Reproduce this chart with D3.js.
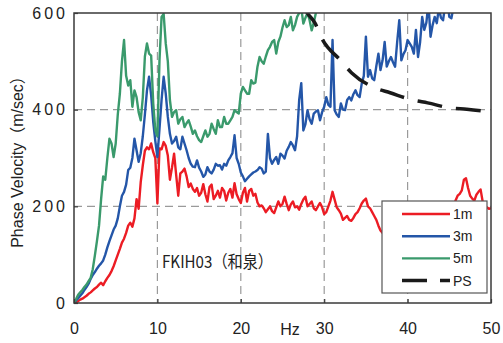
<!DOCTYPE html>
<html>
<head>
<meta charset="utf-8">
<script src="https://cdn.jsdelivr.net/npm/d3@7"></script>
<style>
  body { margin: 0; background: #fff; }
  svg { display: block; }
</style>
</head>
<body>
<svg id="chart" width="503" height="343"></svg>
<script>
// samples are every 0.25 Hz, one row = 1 Hz
const STEP = 0.25;

const xTicks = [0, 10, 20, 30, 40, 50];
const yTicks = [0, 200, 400, 600];
const gridX = [10, 20, 30, 40];
const gridY = [200, 400];

const red1m = [
  0, 2, 4, 7,   9, 12, 15, 19,   22, 26, 30, 33,   38, 42, 37, 45,
  52, 58, 66, 76,   88, 100, 112, 125,   133, 145, 160, 166,   158, 175, 215, 195,
  250, 285, 315, 322,   318, 330, 312, 300,   206, 320, 318, 333,   325, 305, 255, 280,
  309, 265, 222, 268,   272, 278, 262, 240,   247, 236, 230, 238,   222, 228, 246, 225,
  210, 240, 245, 215,   222, 232, 218, 238,   232, 212, 228, 236,   218, 248, 225, 215,
  207, 228, 238, 210,   232, 236, 222, 226,   208, 200, 202, 196,   188, 194, 200, 190,
  186, 198, 210, 200,   205, 220, 205, 192,   204, 210, 198, 200,   193, 205, 214, 220,
  200, 205, 210, 196,   192, 200, 207, 198,   184, 188, 200, 212,   230, 214, 198, 192,
  185, 172, 176, 180,   172, 170, 176, 184,   188, 196, 206, 212,   216, 200, 196, 188,
  180, 172, 160, 150,   145, 150, 160, 170,   165, 175, 180, 172,   178, 185, 180, 188,
  182, 190, 185, 178,   186, 192, 184, 190,   196, 188, 194, 185,   180, 188, 194, 190,
  196, 200, 192, 198,   202, 196, 205, 212,   222, 226, 233, 255,   258, 238, 222, 216,
  212, 224, 230, 235,   210, 200, 198, 195,   196
];

const blue3m = [
  0, 5, 10, 15,   20, 27, 33, 40,   50, 58, 64, 71,   77, 82, 88, 100,
  115, 128, 140, 152,   160, 175, 200, 222,   230, 245, 275, 280,   300, 340, 316, 292,
  310, 345, 390, 440,   468, 430, 375, 335,   302, 360, 420, 468,   433, 385, 350, 330,
  335, 344, 322, 318,   344, 330, 316, 300,   288, 282, 281, 295,   280, 272, 261, 266,
  281, 272, 268, 276,   288, 284, 285, 276,   288, 284, 295, 302,   310, 347, 300, 288,
  270, 262, 252, 257,   262, 266, 270, 272,   275, 281, 278, 268,   272, 350, 300, 288,
  296, 302, 288, 309,   305, 299, 315, 323,   333, 326, 316, 345,   420, 455, 357, 370,
  399, 380, 371, 392,   396, 399, 378, 395,   406, 426, 410, 406,   544, 399, 390, 385,
  413, 400, 399, 420,   426, 419, 432, 440,   430, 426, 454, 470,   551, 468, 482, 465,
  461, 490, 516, 482,   502, 540, 489, 500,   509, 498, 489, 540,   585, 502, 515, 523,
  544, 537, 530, 516,   565, 509, 540, 592,   565, 580, 620, 551,   575, 592, 579, 610,
  590, 585, 615, 630,   592, 589, 612, 630,   640, 625, 650, 620,   640, 630, 660, 625,
  615, 605, 630, 650,   640, 660, 630, 650,   645
];

// 5m leaves the top of the plot just before 30 Hz
const green5m = [
  0, 8, 17, 22,   27, 33, 38, 45,   52, 70, 98, 128,   160, 215, 262, 255,
  300, 340, 330, 302,   330, 390, 433, 500,   544, 470, 450, 461,   406, 440, 426, 395,
  378, 425, 510, 537,   516, 512, 413, 357,   345, 502, 592, 598,   537, 500, 420, 385,
  395, 399, 371, 380,   385, 364, 372, 378,   365, 350, 357, 345,   337, 333, 345, 357,
  344, 350, 371, 360,   350, 378, 364, 364,   385, 371, 371, 378,   385, 399, 395, 392,
  433, 447, 440, 433,   433, 461, 454, 456,   489, 509, 500, 495,   510, 523, 530, 540,
  544, 516, 540, 551,   570, 585, 571, 575,   592, 564, 575, 592,   600, 610, 578, 590,
  600, 585, 564, 580,   600, 620, 640, 660,   680
];

const psHz = [27.5, 27.9, 28.9, 29.7, 31.9, 33.3, 36.1, 37.9, 40.6, 42.4, 45.3, 47.1, 49.9];
const psV = [615, 602, 579, 548, 503, 476, 445, 435, 420, 414, 403, 401, 395];

const seriesNames = ["1m", "3m", "5m", "PS"];
const seriesColors = ["#ec1c24", "#2456a8", "#3a9a6c", "#1a1a1a"];

const svg = d3.select("#chart");
const margin = { top: 13, right: 12, bottom: 40, left: 74 };
const width = 503 - margin.left - margin.right;
const height = 343 - margin.top - margin.bottom;

const x = d3.scaleLinear().domain([0, 50]).range([0, width]);
const y = d3.scaleLinear().domain([0, 600]).range([height, 0]);

const g = svg.append("g")
  .attr("transform", `translate(${margin.left},${margin.top})`);

g.append("clipPath")
  .attr("id", "plot-clip")
  .append("rect")
  .attr("width", width)
  .attr("height", height);

// grid
g.selectAll(".gx")
  .data(gridX)
  .enter()
  .append("line")
  .attr("x1", d => x(d)).attr("x2", d => x(d))
  .attr("y1", 0).attr("y2", height)
  .attr("stroke", "#9a9a9a")
  .attr("stroke-width", 1.2)
  .attr("stroke-dasharray", "8,5");

g.selectAll(".gy")
  .data(gridY)
  .enter()
  .append("line")
  .attr("x1", 0).attr("x2", width)
  .attr("y1", d => y(d)).attr("y2", d => y(d))
  .attr("stroke", "#9a9a9a")
  .attr("stroke-width", 1.2)
  .attr("stroke-dasharray", "8,5");

// curves
const line = d3.line()
  .x((d, i) => x(i * STEP))
  .y(d => y(d));

const curves = g.append("g").attr("clip-path", "url(#plot-clip)");

[red1m, blue3m, green5m].forEach((values, k) => {
  curves.append("path")
    .datum(values)
    .attr("fill", "none")
    .attr("stroke", seriesColors[k])
    .attr("stroke-width", 2.4)
    .attr("stroke-linejoin", "round")
    .attr("d", line);
});

const psLine = d3.line()
  .x(d => x(d[0]))
  .y(d => y(d[1]))
  .curve(d3.curveMonotoneX);

curves.append("path")
  .datum(psHz.map((h, i) => [h, psV[i]]))
  .attr("fill", "none")
  .attr("stroke", seriesColors[3])
  .attr("stroke-width", 3.5)
  .attr("stroke-dasharray", "25,14")
  .attr("stroke-dashoffset", 0)
  .attr("d", psLine);

// frame and axes
g.append("rect")
  .attr("width", width)
  .attr("height", height)
  .attr("fill", "none")
  .attr("stroke", "#3a3a3a")
  .attr("stroke-width", 1.5);

const font = "'Liberation Sans', Arial, 'Noto Sans CJK JP', sans-serif";

const xAxis = g.append("g")
  .attr("transform", `translate(0,${height})`)
  .call(d3.axisBottom(x).tickValues(xTicks).tickSizeInner(-4).tickSizeOuter(0).tickPadding(20));

const yAxis = g.append("g")
  .call(d3.axisLeft(y).tickValues(yTicks).tickSizeInner(-4).tickSizeOuter(0).tickPadding(6));

[xAxis, yAxis].forEach(a => {
  a.select(".domain").remove();
  a.selectAll(".tick line").attr("stroke", "#3a3a3a").attr("stroke-width", 1.2);
  a.selectAll(".tick text")
    .attr("fill", "#222")
    .style("font-family", font)
    .style("font-size", "16px");
});
yAxis.selectAll(".tick text").style("letter-spacing", "3px");

svg.append("text")
  .attr("x", 290)
  .attr("y", 335)
  .attr("text-anchor", "middle")
  .attr("fill", "#222")
  .style("font-family", font)
  .style("font-size", "16px")
  .text("Hz");

svg.append("text")
  .attr("transform", "translate(23,158) rotate(-90)")
  .attr("text-anchor", "middle")
  .attr("fill", "#222")
  .style("font-family", font)
  .style("font-size", "16px")
  .text("Phase Velocity（m/sec）");

svg.append("text")
  .attr("x", 162)
  .attr("y", 268)
  .attr("fill", "#222")
  .attr("textLength", 111)
  .attr("lengthAdjust", "spacingAndGlyphs")
  .style("font-family", "'Noto Sans CJK JP', sans-serif")
  .style("font-size", "17px")
  .text("FKIH03（和泉）");

// legend
const legend = svg.append("g").attr("transform", "translate(382,201)");

legend.append("rect")
  .attr("width", 105)
  .attr("height", 92)
  .attr("fill", "#fff")
  .attr("stroke", "#555")
  .attr("stroke-width", 1.2);

const item = legend.selectAll(".item")
  .data(seriesNames)
  .enter()
  .append("g")
  .attr("transform", (d, i) => `translate(0,${13 + i * 22.2})`);

item.append("line")
  .attr("x1", 20).attr("x2", 68)
  .attr("stroke", (d, i) => seriesColors[i])
  .attr("stroke-width", (d, i) => i === 3 ? 3.5 : 2.4)
  .attr("stroke-dasharray", (d, i) => i === 3 ? "25,13" : null);

item.append("text")
  .attr("x", 71)
  .attr("dy", "0.36em")
  .attr("fill", "#222")
  .style("font-family", font)
  .style("font-size", "14px")
  .text(d => d);
</script>
</body>
</html>
